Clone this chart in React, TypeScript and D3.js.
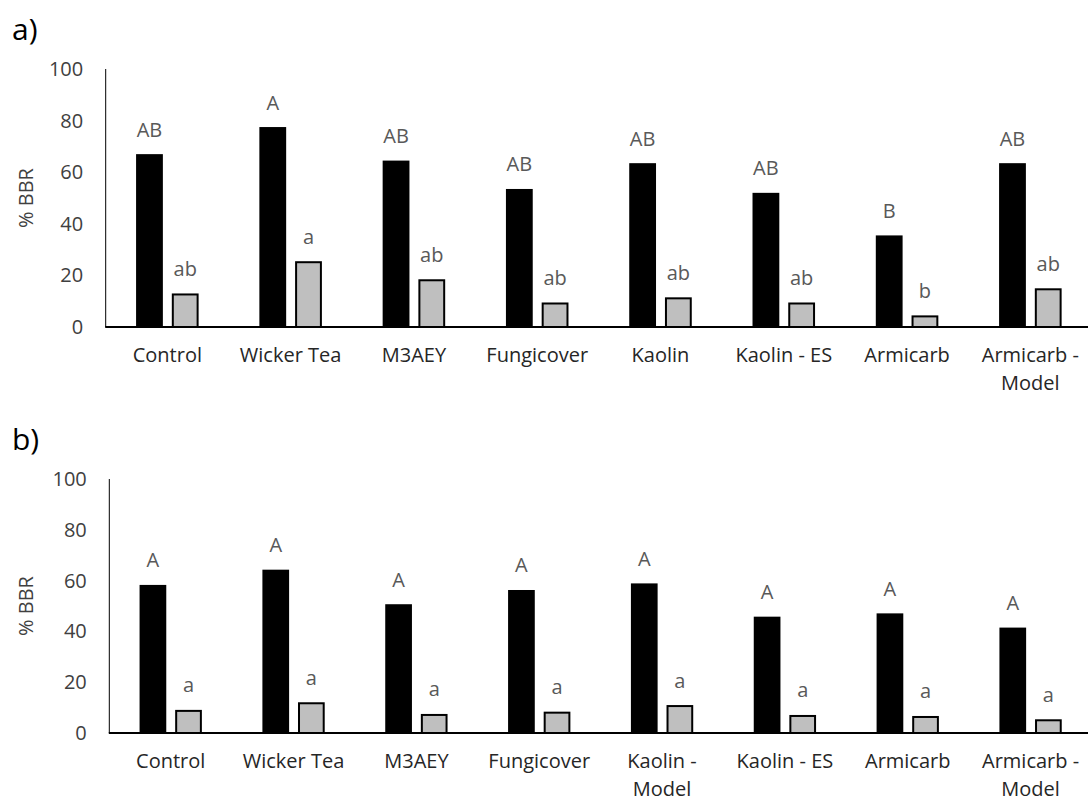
// Two grouped bar panels (% BBR) drawn with D3
import React, { useEffect, useRef } from 'react';
import * as d3 from 'd3';

const categoriesA = ['Control', 'Wicker Tea', 'M3AEY', 'Fungicover', 'Kaolin', 'Kaolin - ES', 'Armicarb', 'Armicarb - Model'];
const categoriesB = ['Control', 'Wicker Tea', 'M3AEY', 'Fungicover', 'Kaolin - Model', 'Kaolin - ES', 'Armicarb', 'Armicarb - Model'];

const blackA = [67, 77.5, 64.5, 53.5, 63.5, 52, 35.5, 63.5];
const grayA = [13, 25.5, 18.5, 9.5, 11.5, 9.5, 4.5, 15];
const blackB = [58.3, 64.3, 50.7, 56.3, 58.9, 45.8, 47.1, 41.5];
const grayB = [9.1, 12.1, 7.5, 8.4, 11, 7.1, 6.7, 5.4];

const lettersBlackA = ['AB', 'A', 'AB', 'AB', 'AB', 'AB', 'B', 'AB'];
const lettersGrayA = ['ab', 'a', 'ab', 'ab', 'ab', 'ab', 'b', 'ab'];
const lettersBlackB = ['A', 'A', 'A', 'A', 'A', 'A', 'A', 'A'];
const lettersGrayB = ['a', 'a', 'a', 'a', 'a', 'a', 'a', 'a'];

const yTicks = [0, 20, 40, 60, 80, 100];
const series = ['black', 'gray'];

const FONT = '"Open Sans", sans-serif';

interface Panel {
  tag: string;
  categories: string[];
  black: number[];
  gray: number[];
  lettersBlack: string[];
  lettersGray: string[];
  left: number;
  top: number;
  bottom: number;
}

const panels: Panel[] = [
  { tag: 'a)', categories: categoriesA, black: blackA, gray: grayA, lettersBlack: lettersBlackA, lettersGray: lettersGrayA, left: 105.7, top: 69, bottom: 327 },
  { tag: 'b)', categories: categoriesB, black: blackB, gray: grayB, lettersBlack: lettersBlackB, lettersGray: lettersGrayB, left: 109.3, top: 479, bottom: 733 },
];

// "Armicarb - Model" -> ["Armicarb -", "Model"]
const wrapLabel = (s: string) => (s.endsWith(' - Model') ? [s.replace(' - Model', ' -'), 'Model'] : [s]);

const App: React.FC = () => {
  const svgRef = useRef<SVGSVGElement>(null);

  useEffect(() => {
    if (!svgRef.current) return;
    const svg = d3.select(svgRef.current);
    svg.selectAll('*').remove();

    panels.forEach((p) => {
      const g = svg.append('g');
      const right = 1092;

      const x0 = d3.scaleBand<string>().domain(p.categories).range([p.left, right]).paddingInner(0).paddingOuter(0);
      const x1 = d3.scaleBand<string>().domain(series).range([0, x0.bandwidth()]).paddingInner(0.25).paddingOuter(0.85);
      const y = d3.scaleLinear().domain([0, 100]).range([p.bottom, p.top]);

      const rows = p.categories.map((c, i) => ({
        cat: c,
        black: p.black[i],
        gray: p.gray[i],
        lb: p.lettersBlack[i],
        lg: p.lettersGray[i],
      }));

      // панель-метка
      g.append('text')
        .attr('x', 12)
        .attr('y', p.top - 29)
        .attr('font-family', FONT)
        .attr('font-size', 30)
        .attr('fill', '#000')
        .text(p.tag);

      // подпись оси Y
      g.append('text')
        .attr('transform', `translate(33,${(p.top + p.bottom) / 2}) rotate(-90)`)
        .attr('text-anchor', 'middle')
        .attr('font-family', FONT)
        .attr('font-size', 20)
        .attr('fill', '#404040')
        .text('% BBR');

      // тики Y
      g.selectAll('.ytick')
        .data(yTicks)
        .enter()
        .append('text')
        .attr('x', p.left - 22.5)
        .attr('y', (d) => y(d) + 7)
        .attr('text-anchor', 'end')
        .attr('font-family', FONT)
        .attr('font-size', 20)
        .attr('fill', '#404040')
        .text((d) => d);

      // черные столбцы
      g.selectAll('.bar-black')
        .data(rows)
        .enter()
        .append('rect')
        .attr('x', (d) => (x0(d.cat) as number) + (x1('black') as number))
        .attr('y', (d) => y(d.black))
        .attr('width', x1.bandwidth())
        .attr('height', (d) => y(0) - y(d.black))
        .attr('fill', '#000');

      // серые столбцы
      g.selectAll('.bar-gray')
        .data(rows)
        .enter()
        .append('rect')
        .attr('x', (d) => (x0(d.cat) as number) + (x1('gray') as number) + 1)
        .attr('y', (d) => y(d.gray) + 1)
        .attr('width', x1.bandwidth() - 2)
        .attr('height', (d) => y(0) - y(d.gray) - 1)
        .attr('fill', '#bfbfbf')
        .attr('stroke', '#000')
        .attr('stroke-width', 2);

      // буквы над столбцами
      const letter = (key: 'black' | 'gray', txt: (d: typeof rows[0]) => string) =>
        g.selectAll(`.lbl-${key}`)
          .data(rows)
          .enter()
          .append('text')
          .attr('x', (d) => (x0(d.cat) as number) + (x1(key) as number) + x1.bandwidth() / 2)
          .attr('y', (d) => y(d[key]) - 17.5)
          .attr('text-anchor', 'middle')
          .attr('font-family', FONT)
          .attr('font-size', 20)
          .attr('fill', '#595959')
          .text(txt);
      letter('black', (d) => d.lb);
      letter('gray', (d) => d.lg);

      // оси
      g.append('line')
        .attr('x1', p.left).attr('x2', p.left)
        .attr('y1', y(100)).attr('y2', y(0))
        .attr('stroke', '#000').attr('stroke-width', 1);
      g.append('line')
        .attr('x1', p.left - 0.5).attr('x2', right)
        .attr('y1', y(0)).attr('y2', y(0))
        .attr('stroke', '#000').attr('stroke-width', 2);

      // категории (каждая строка — отдельный text)
      const catLines = p.categories.flatMap((c) =>
        wrapLabel(c).map((t, i) => ({ cat: c, text: t, line: i }))
      );
      g.selectAll('.cat')
        .data(catLines)
        .enter()
        .append('text')
        .attr('x', (d) => (x0(d.cat) as number) + x0.bandwidth() / 2)
        .attr('y', (d) => p.bottom + 35 + d.line * 27.5)
        .attr('text-anchor', 'middle')
        .attr('font-family', FONT)
        .attr('font-size', 20)
        .attr('fill', '#262626')
        .text((d) => d.text);
    });
  }, []);

  return (
    <div>
      <style>{'body{margin:0;background:#fff}'}</style>
      <svg ref={svgRef} width={1088} height={803} style={{ display: 'block' }} />
    </div>
  );
};

export default App;
